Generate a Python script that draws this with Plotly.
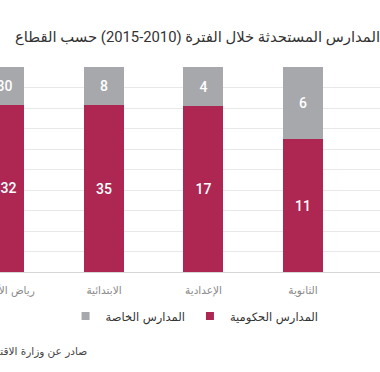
import plotly.graph_objects as go

categories = ["رياض الأطفال", "الابتدائية", "الإعدادية", "الثانوية"]
gov_values = [132, 35, 17, 11]
private_values = [30, 8, 4, 6]

gov_name = "المدارس الحكومية"
private_name = "المدارس الخاصة"
title_text = "المدارس المستحدثة خلال الفترة (2010‐2015) حسب القطاع"
source_text = "صادر عن وزارة الاقتصاد والتجارة"

RED = "#ae2753"
GRAY = "#a7a8ac"
FONT = "Roboto, DejaVu Sans, sans-serif"
AR_FONT = "DejaVu Sans, sans-serif"

fig = go.Figure()
fig.add_trace(go.Bar(
    x=categories, y=gov_values, name=gov_name,
    marker=dict(color=RED, line=dict(width=0)),
    text=gov_values, texttemplate="%{text}", textposition="inside",
    insidetextanchor="middle",
    textfont=dict(color="white", size=14, family=FONT, weight=500),
    showlegend=False,
))
fig.add_trace(go.Bar(
    x=categories, y=private_values, name=private_name,
    marker=dict(color=GRAY, line=dict(width=0)),
    text=private_values, texttemplate="%{text}", textposition="inside",
    insidetextanchor="middle",
    textfont=dict(color="white", size=14, family=FONT, weight=500),
    showlegend=False,
))
# legend entries
fig.add_trace(go.Scatter(x=[None], y=[None], mode="markers", name=gov_name,
                         marker=dict(symbol="square", size=8, color=RED)))
fig.add_trace(go.Scatter(x=[None], y=[None], mode="markers", name=private_name,
                         marker=dict(symbol="square", size=8, color=GRAY)))

fig.update_layout(
    width=380, height=372,
    margin=dict(l=0, r=0, t=67, b=100),
    barmode="stack", barnorm="percent", bargap=0.598,
    plot_bgcolor="white", paper_bgcolor="white",
    font=dict(family=AR_FONT, color="#333333"),
    title=dict(text=title_text, x=1.0, xref="paper", xanchor="right",
               y=1 - 37 / 372, yref="container", yanchor="middle",
               font=dict(size=14.8, color="#333333", family=FONT)),
    legend=dict(orientation="h", x=0.512, xanchor="center", y=-0.215,
                yanchor="middle", traceorder="reversed",
                font=dict(size=11.5, color="#333333", family=AR_FONT),
                itemwidth=30, bgcolor="rgba(0,0,0,0)"),
    xaxis=dict(type="category", range=[-0.045, 3.774], showgrid=False,
               showline=True, linecolor="#d6d6d6", linewidth=1,
               ticks="", ticklabelstandoff=8, automargin=False,
               tickfont=dict(size=10.5, color="#8a8a8a", family=AR_FONT)),
    yaxis=dict(range=[0, 100], dtick=10, showgrid=True, gridcolor="#e8e8e8",
               gridwidth=1, showticklabels=False, zeroline=False,
               showline=False, automargin=False),
    annotations=[dict(text=source_text, xref="paper", yref="paper",
                      x=89 / 380, xanchor="right", y=(272 - 351) / 205,
                      yanchor="middle", showarrow=False,
                      font=dict(size=10.5, color="#444444", family=AR_FONT))],
)

fig.write_html("out.html", config={"displayModeBar": False},
               post_script="document.body.style.margin='0';")
